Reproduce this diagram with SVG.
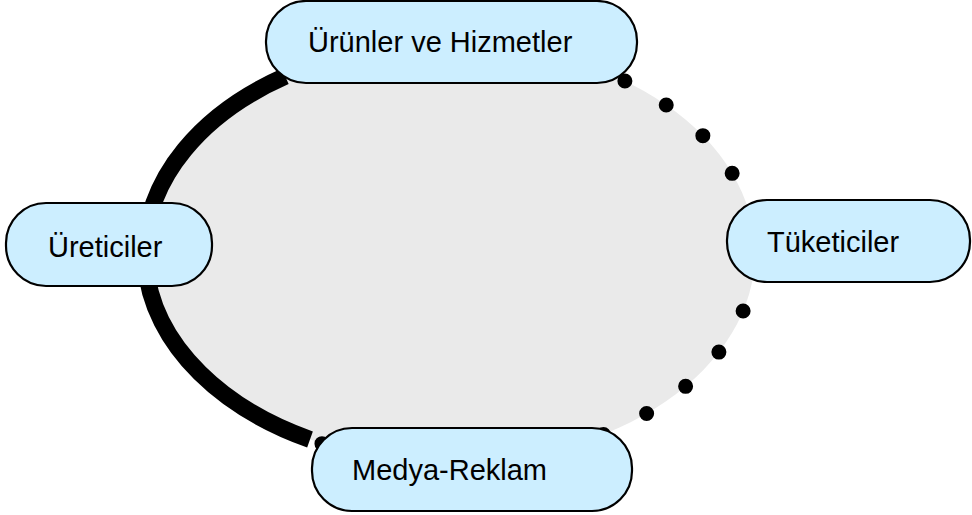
<svg xmlns="http://www.w3.org/2000/svg" width="972" height="515" viewBox="0 0 972 515">
  <style>
    .node rect { fill: #CCEEFF; stroke: #000; stroke-width: 2.2; }
    .node text { font-family: "Liberation Sans", Arial, sans-serif; font-size: 29px; fill: #000; }
    .thick { fill: none; stroke: #000; stroke-width: 17; stroke-linecap: butt; }
    .dotted { fill: none; stroke: #000; stroke-width: 15; stroke-linecap: round; stroke-dasharray: 0 47.8; }
  </style>
  <rect width="972" height="515" fill="#fff"/>
  <g id="background">
    <ellipse cx="450" cy="253" rx="305" ry="210" fill="#EAEAEA"/>
  </g>
  <g id="connectors">
    <path class="dotted" d="M 624.9 81.0 A 305 210 0 1 1 285.2 76.3"/>
    <path class="thick" d="M 285.2 76.3 A 305 210 0 0 0 310 439.5"/>
  </g>
  <g id="node-urunler" class="node">
    <rect x="266" y="1" width="371" height="82" rx="40" ry="40"/>
    <text x="308" y="52">Ürünler ve Hizmetler</text>
  </g>
  <g id="node-ureticiler" class="node">
    <rect x="6" y="203" width="206" height="83" rx="40" ry="40"/>
    <text x="48" y="257">Üreticiler</text>
  </g>
  <g id="node-tuketiciler" class="node">
    <rect x="727" y="200" width="243" height="82" rx="40" ry="40"/>
    <text x="767" y="252">Tüketiciler</text>
  </g>
  <g id="node-medya" class="node">
    <rect x="312" y="428" width="320" height="83" rx="40" ry="40"/>
    <text x="352" y="480">Medya-Reklam</text>
  </g>
</svg>
